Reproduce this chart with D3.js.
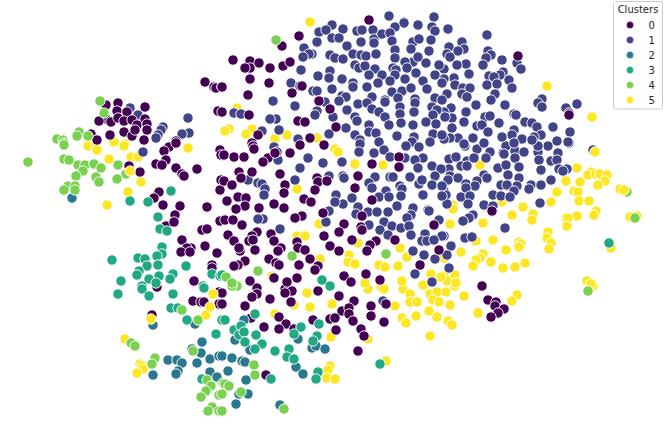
<!DOCTYPE html>
<html><head><meta charset="utf-8">
<script src="https://cdn.jsdelivr.net/npm/d3@7"></script>
<style>html,body{margin:0;padding:0;background:#fff}svg{display:block}</style>
</head><body><svg id="c" width="667" height="430"></svg>
<script>
const legendTitle="Clusters";
const clusterNames=["0","1","2","3","4","5"];
const clusterColors=["#440154","#414487","#2a788e","#22a884","#7ad151","#fde725"];
const drawOrder=[5,1,0,2,3,4];
const cluster0=[[106,105],[118,103],[145,107],[117,111],[127,112],[106,119],[99,121],[111,122],[118,118],[124,121],[132,120],[145,119],[137,125],[147,124],[124,132],[132,136],[135,130],[147,130],[110,135],[91,134],[97,140],[144,140],[176,141],[205,82],[214,87],[216,88],[218,111],[222,87],[169,147],[164,151],[176,143],[166,160],[156,164],[162,165],[129,166],[140,172],[176,168],[182,174],[184,176],[197,169],[220,150],[221,155],[221,180],[220,190],[159,192],[154,198],[163,205],[180,206],[207,207],[175,215],[166,226],[174,222],[202,230],[207,229],[220,221],[182,240],[191,248],[187,248],[181,252],[190,252],[205,246],[217,253],[212,265],[212,268],[194,281],[157,287],[193,301],[201,302],[204,302],[219,304],[219,292],[152,315],[257,288],[257,294],[252,297],[245,306],[270,299],[251,318],[279,317],[286,324],[279,329],[264,327],[285,289],[292,291],[285,293],[291,302],[318,291],[339,296],[354,301],[342,311],[349,308],[349,314],[353,321],[371,306],[371,316],[384,322],[386,304],[361,329],[364,336],[358,351],[336,330],[330,319],[335,318],[313,320],[294,329],[222,304],[266,375],[222,293],[482,286],[488,300],[496,302],[495,306],[504,309],[498,313],[491,317],[492,211],[518,56],[569,115],[369,20],[299,36],[282,46],[233,60],[250,61],[259,63],[250,68],[245,68],[270,68],[283,66],[290,62],[250,79],[269,83],[222,87],[302,86],[292,93],[248,95],[319,101],[330,109],[249,115],[222,112],[298,121],[305,122],[336,127],[258,135],[252,143],[310,138],[253,146],[254,149],[224,155],[234,157],[244,157],[268,158],[263,162],[275,153],[290,153],[300,145],[324,145],[399,157],[372,164],[399,167],[239,172],[252,172],[241,178],[280,174],[358,176],[224,181],[232,185],[317,178],[318,182],[327,181],[355,188],[315,190],[285,185],[284,193],[238,197],[246,198],[227,201],[245,206],[236,209],[274,204],[284,208],[304,199],[311,202],[372,200],[259,208],[323,213],[302,216],[295,218],[362,216],[225,220],[233,220],[242,225],[344,224],[434,225],[361,227],[362,230],[339,232],[228,235],[257,232],[271,234],[252,236],[234,241],[249,241],[253,240],[274,241],[352,240],[376,241],[395,240],[297,242],[324,236],[330,246],[370,245],[240,251],[239,248],[255,250],[281,248],[278,251],[298,248],[305,250],[339,251],[367,251],[439,250],[269,259],[310,259],[245,261],[238,265],[234,266],[276,263],[279,265],[299,265],[318,266],[315,270],[420,265],[366,274],[274,278],[297,278],[250,281],[287,282],[344,276],[351,282],[380,280]];
const cluster1=[[130,108],[138,115],[163,127],[161,130],[158,135],[156,138],[188,118],[189,133],[182,134],[143,152],[593,150],[465,146],[477,149],[490,152],[503,153],[506,146],[515,151],[524,152],[538,152],[548,146],[538,146],[558,153],[569,143],[449,159],[456,157],[467,161],[474,158],[486,158],[515,158],[504,154],[539,160],[551,161],[557,160],[461,166],[467,166],[498,168],[506,165],[519,167],[541,170],[559,169],[567,169],[563,171],[449,169],[508,175],[484,175],[487,178],[450,176],[519,178],[551,180],[458,178],[448,180],[477,181],[466,184],[475,186],[517,186],[531,185],[529,189],[541,185],[501,185],[507,185],[444,191],[466,188],[514,191],[493,195],[501,196],[510,197],[461,197],[470,196],[446,195],[468,204],[447,204],[484,205],[540,203],[493,206],[473,215],[469,218],[463,221],[505,228],[465,238],[472,237],[451,246],[444,236],[447,255],[449,268],[448,29],[487,35],[462,42],[464,49],[449,47],[458,51],[447,54],[450,57],[488,51],[491,55],[486,58],[483,65],[466,64],[457,65],[502,60],[517,63],[521,69],[444,69],[469,74],[503,72],[500,75],[489,76],[494,77],[454,78],[444,79],[509,80],[487,85],[497,84],[512,88],[455,85],[463,88],[470,88],[462,94],[467,97],[447,94],[495,94],[491,100],[476,105],[505,105],[542,99],[538,103],[542,107],[577,104],[566,108],[569,113],[451,108],[466,112],[444,112],[485,117],[490,116],[514,114],[516,115],[452,118],[445,117],[464,122],[499,123],[525,122],[532,123],[537,127],[553,127],[570,132],[477,126],[482,125],[452,128],[488,132],[514,130],[512,135],[541,135],[534,137],[502,137],[522,139],[473,138],[458,138],[450,138],[444,139],[557,141],[568,142],[484,143],[464,144],[514,143],[532,140],[389,16],[434,17],[404,22],[404,23],[332,25],[319,32],[326,30],[343,29],[357,31],[362,30],[373,30],[395,27],[418,25],[432,27],[435,31],[332,38],[339,38],[317,42],[347,46],[361,42],[374,39],[382,34],[390,33],[392,41],[413,42],[431,40],[419,39],[304,48],[374,43],[395,50],[411,49],[429,51],[312,54],[309,54],[303,57],[330,55],[335,58],[343,59],[353,54],[361,55],[366,56],[376,54],[395,58],[413,62],[418,57],[405,62],[355,65],[359,68],[365,66],[375,69],[301,70],[393,68],[396,70],[407,68],[426,63],[439,65],[330,71],[369,75],[382,75],[416,73],[395,75],[318,76],[435,75],[329,78],[342,79],[405,79],[423,81],[390,81],[378,83],[291,83],[300,86],[353,83],[353,87],[332,89],[367,87],[442,83],[392,92],[313,91],[317,91],[402,91],[411,88],[427,89],[342,96],[346,97],[372,97],[398,98],[415,99],[435,98],[385,100],[339,101],[273,101],[325,102],[295,106],[358,104],[367,103],[385,102],[415,103],[442,100],[432,107],[372,109],[400,107],[347,110],[317,111],[379,112],[414,112],[437,110],[433,115],[234,113],[241,114],[315,115],[333,117],[355,117],[385,117],[400,114],[276,119],[270,119],[279,130],[357,121],[426,122],[436,124],[401,123],[389,125],[413,125],[346,128],[369,125],[433,134],[369,132],[376,133],[355,135],[329,134],[397,136],[442,135],[262,131],[298,139],[360,140],[379,142],[414,137],[430,142],[412,142],[274,147],[278,160],[277,152],[308,158],[300,168],[323,163],[342,162],[360,144],[359,152],[374,153],[384,150],[390,157],[405,158],[406,146],[419,147],[423,158],[415,160],[418,168],[432,166],[441,169],[435,176],[375,177],[390,177],[393,177],[410,177],[419,184],[422,180],[369,183],[372,188],[386,191],[400,186],[402,189],[432,185],[423,195],[442,186],[379,197],[389,197],[401,196],[329,176],[343,176],[344,178],[295,180],[248,180],[258,183],[262,184],[265,189],[264,195],[336,195],[343,204],[335,202],[352,198],[358,207],[356,214],[329,211],[326,222],[263,219],[258,219],[280,229],[368,212],[377,212],[388,212],[397,206],[413,208],[411,215],[407,218],[428,210],[429,211],[439,220],[369,225],[384,222],[392,226],[401,228],[409,226],[380,230],[388,235],[411,235],[425,234],[422,241],[427,241],[442,236],[434,240],[413,251],[424,255],[435,259],[415,274],[432,282],[442,196],[383,301]];
const cluster2=[[72,198],[153,325],[195,324],[202,342],[192,349],[201,353],[210,359],[219,356],[197,363],[168,360],[177,360],[182,363],[153,375],[178,371],[176,374],[210,372],[217,377],[244,320],[235,340],[250,350],[298,339],[312,348],[316,346],[325,349],[222,356],[232,358],[242,361],[245,362],[228,371],[246,380],[296,367],[303,374],[248,394],[239,394],[236,404],[280,405]];
const cluster3=[[171,191],[130,201],[148,202],[158,217],[160,229],[167,231],[162,247],[162,254],[157,256],[112,260],[138,258],[145,259],[158,265],[147,266],[139,271],[137,275],[186,266],[173,274],[159,276],[170,279],[149,279],[121,281],[156,283],[212,274],[220,276],[142,286],[203,286],[118,294],[142,289],[149,296],[173,294],[204,288],[171,308],[178,308],[187,320],[216,334],[202,379],[222,320],[255,314],[225,320],[234,330],[241,326],[239,335],[244,332],[245,342],[256,335],[262,344],[255,349],[275,351],[289,349],[287,357],[294,359],[301,327],[294,334],[319,324],[317,336],[313,341],[380,364],[318,372],[316,379],[271,379],[330,286],[609,243],[322,280],[222,275]];
const cluster4=[[100,101],[104,113],[79,132],[77,136],[57,139],[63,140],[88,136],[64,143],[64,145],[28,162],[64,159],[69,160],[78,165],[85,165],[83,171],[94,164],[101,168],[118,165],[126,174],[76,176],[96,177],[99,182],[117,179],[68,186],[75,186],[75,190],[64,190],[182,310],[198,320],[131,343],[135,346],[193,351],[155,358],[152,364],[207,380],[211,386],[206,391],[201,397],[219,395],[212,407],[208,411],[219,411],[223,383],[237,286],[232,286],[254,365],[255,375],[225,384],[229,386],[241,392],[284,409],[222,394],[222,411],[588,291],[627,192],[635,218],[276,40],[292,256],[386,254],[258,271],[226,277],[232,283]];
const cluster5=[[114,142],[88,144],[96,144],[125,144],[88,146],[96,146],[97,150],[124,146],[109,159],[131,157],[138,157],[141,182],[128,192],[107,205],[188,148],[206,315],[125,339],[140,364],[142,366],[143,369],[137,373],[307,293],[310,307],[332,304],[294,305],[275,314],[331,337],[368,339],[368,289],[381,287],[384,289],[395,306],[403,289],[410,294],[410,302],[417,302],[424,286],[430,294],[437,292],[433,300],[439,302],[429,311],[416,316],[437,317],[402,318],[406,323],[430,336],[386,361],[330,366],[328,370],[327,378],[335,379],[446,292],[455,286],[464,296],[450,305],[478,313],[448,321],[452,325],[517,295],[512,301],[593,286],[480,165],[577,168],[591,172],[588,175],[596,174],[600,174],[607,175],[605,181],[598,185],[566,181],[580,182],[557,192],[574,191],[578,192],[620,189],[551,202],[579,201],[589,201],[502,202],[453,205],[453,209],[523,207],[512,215],[533,214],[532,220],[450,224],[483,223],[596,211],[594,215],[577,216],[566,218],[568,218],[567,226],[630,217],[637,216],[548,232],[547,238],[551,243],[549,249],[493,240],[476,241],[519,242],[521,244],[519,247],[506,250],[611,248],[461,252],[483,254],[480,258],[476,260],[444,258],[491,262],[473,266],[525,263],[515,267],[503,268],[455,275],[444,276],[447,281],[456,283],[587,281],[591,284],[547,86],[592,117],[310,22],[237,108],[229,129],[225,131],[252,129],[246,134],[275,139],[287,135],[317,138],[335,149],[338,152],[355,164],[383,165],[297,189],[319,224],[297,236],[305,236],[358,243],[400,248],[407,257],[349,255],[348,262],[355,264],[320,259],[379,265],[385,267],[398,266],[431,274],[441,277],[402,281],[365,283],[423,285],[272,276]];
const cluster5Top=[[130,171],[151,319],[595,152],[624,190],[210,307],[213,294]];
const clusters=[cluster0,cluster1,cluster2,cluster3,cluster4,cluster5];

const W=667,H=430;
const x=d3.scaleLinear().domain([0,667]).range([0,W]);
const y=d3.scaleLinear().domain([0,430]).range([0,H]);
const color=d3.scaleOrdinal().domain(clusterNames).range(clusterColors);
const svg=d3.select("#c");
const marks=svg.append("g");
function drawPoints(pts,name){
  marks.append("g").selectAll("circle").data(pts).join("circle")
    .attr("cx",d=>x(d[0])).attr("cy",d=>y(d[1])).attr("r",5.2)
    .attr("fill",color(name)).attr("stroke","#fff").attr("stroke-width",.9);
}
drawOrder.forEach(i=>drawPoints(clusters[i],clusterNames[i]));
drawPoints(cluster5Top,"5");
const lg=svg.append("g").attr("font-family","'DejaVu Sans',sans-serif").attr("font-size",10).attr("fill","#262626");
lg.append("rect").attr("x",613.5).attr("y",1.5).attr("width",49).attr("height",107.5).attr("rx",2).attr("fill","#fff").attr("fill-opacity",.8).attr("stroke","#ccc").attr("stroke-width",1);
lg.append("text").attr("x",638).attr("y",13).attr("text-anchor","middle").text(legendTitle);
const ly=d3.scalePoint().domain(clusterNames).range([25,100]);
clusterNames.forEach(n=>{
  lg.append("circle").attr("cx",630).attr("cy",ly(n)).attr("r",3.5).attr("fill",color(n)).attr("stroke","#fff").attr("stroke-width",.3);
  lg.append("text").attr("x",648.5).attr("y",ly(n)+3.5).text(n);
});
</script></body></html>
